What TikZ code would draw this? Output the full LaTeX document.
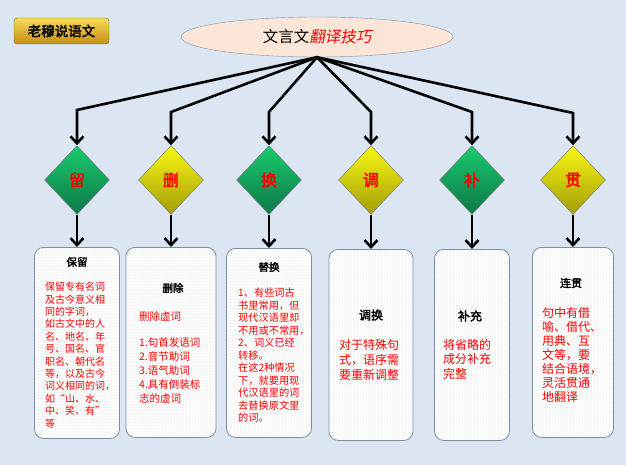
\documentclass[tikz,border=0pt]{standalone}
\usepackage{fontspec}
\newfontfamily\cjk[AutoFakeBold=2.5,AutoFakeSlant=0.2]{Noto Sans CJK SC}
\usepackage{tikz}
\usetikzlibrary{arrows.meta,shapes.geometric,patterns}

\definecolor{bgblue}{HTML}{DCE6F2}
\definecolor{peach}{HTML}{FBE5D6}
\definecolor{ellline}{HTML}{7F8FA9}
\definecolor{cardline}{HTML}{7C8DA6}
\definecolor{green1}{HTML}{18CB6E}
\definecolor{green2}{HTML}{0E7747}
\definecolor{yel1}{HTML}{F8F812}
\definecolor{yel2}{HTML}{A39C08}
\definecolor{gold1}{HTML}{FADA5A}
\definecolor{gold2}{HTML}{C28E14}
\definecolor{badgeline}{HTML}{7A6632}

\begin{document}
\begin{tikzpicture}[x=1pt,y=-1pt,>={Straight Barb[length=7pt,width=13pt]},
    link/.style={line width=2.6pt},
    kind/.style={diamond,draw=gray,line width=0.5pt,minimum width=65pt,minimum height=69pt,inner sep=0pt,text=red,font=\cjk\bfseries\fontsize{16}{16}\selectfont},
    greenkind/.style={kind,top color=green1,bottom color=green2},
    yellowkind/.style={kind,top color=yel1,bottom color=yel2},
    card/.style={anchor=north,draw=cardline,line width=0.8pt,rounded corners=9pt,preaction={fill=white},pattern=dots,pattern color=gray!50},
    head/.style={font=\cjk\bfseries\fontsize{10.5}{12}\selectfont},
    body/.style={anchor=north west,inner sep=0pt,align=left,text=red}]
  \fill[bgblue] (0,0) rectangle (626,465);
  \useasboundingbox (0,0) rectangle (626,465);

  % title and badge
  \node[rounded corners=3pt,draw=badgeline,top color=gold1,bottom color=gold2,minimum width=95pt,minimum height=26pt,font=\cjk\bfseries\fontsize{13.5}{14}\selectfont] (tag) at (61.5,31) {老穆说语文};
  \node[ellipse,draw=ellline,fill=peach,minimum width=272pt,minimum height=40pt,inner sep=0pt,font=\cjk\fontsize{15.5}{16}\selectfont] (top) at (317,37) {文言文\textcolor{red}{\itshape 翻译技巧}};

  % bends
  \coordinate (k1) at (77,110);
  \coordinate (k2) at (171,112);
  \coordinate (k3) at (269,112);
  \coordinate (k4) at (371,112);
  \coordinate (k5) at (472,112);
  \coordinate (k6) at (573,113);

  % diamonds
  \node[greenkind] (d1) at (77,180) {留};
  \node[yellowkind] (d2) at (171,180) {删};
  \node[greenkind] (d3) at (269,180) {换};
  \node[yellowkind] (d4) at (371,180) {调};
  \node[greenkind] (d5) at (472,180) {补};
  \node[yellowkind] (d6) at (573,180) {贯};

  % cards
  \node[card,minimum width=85pt,minimum height=191pt] (b1) at (77,247) {};
  \node[card,minimum width=90pt,minimum height=190pt] (b2) at (171,247) {};
  \node[card,minimum width=85pt,minimum height=189pt] (b3) at (269,248) {};
  \node[card,minimum width=84pt,minimum height=191pt] (b4) at (371,249) {};
  \node[card,minimum width=75pt,minimum height=191pt] (b5) at (472,249) {};
  \node[card,minimum width=81pt,minimum height=190pt] (b6) at (573,247) {};

  \node[head] (h1) at (77,262) {保留};
  \node[head] (h2) at (173,288) {删除};
  \node[head] (h3) at (269,267) {替换};
  \node[head,font=\cjk\bfseries\fontsize{12}{12}\selectfont] (h4) at (371,315) {调换};
  \node[head,font=\cjk\bfseries\fontsize{12}{12}\selectfont] (h5) at (470,316) {补充};
  \node[head,font=\cjk\bfseries\fontsize{11}{12}\selectfont] (h6) at (571,283) {连贯};

  \node[body,font=\cjk\fontsize{10}{12.4}\selectfont] (t1) at (45,282) {保留专有名词\\及古今意义相\\同的字词，\\如古文中的人\\名、地名、年\\号、国名、官\\职名、朝代名\\等，以及古今\\词义相同的词，\\如“山、水、\\中、笑、有”\\等};
  \node[body,anchor=west,font=\cjk\fontsize{10.5}{14}\selectfont] (t2) at (139,316) {删除虚词};
  \node[body,font=\cjk\fontsize{10.5}{14}\selectfont] (t2b) at (139,337) {1.句首发语词\\2.音节助词\\3.语气助词\\4.具有倒装标\\志的虚词};
  \node[body,font=\cjk\fontsize{10.2}{12.5}\selectfont] (t3) at (238,288) {1、有些词古\\书里常用，但\\现代汉语里却\\不用或不常用，\\2、词义已经\\转移。\\在这2种情况\\下，就要用现\\代汉语里的词\\去替换原文里\\的词。};
  \node[body,font=\cjk\fontsize{12}{15}\selectfont] (t4) at (339,339) {对于特殊句\\式，语序需\\要重新调整};
  \node[body,font=\cjk\fontsize{12}{14.5}\selectfont] (t5) at (443,339) {将省略的\\成分补充\\完整};
  \node[body,font=\cjk\fontsize{12}{14}\selectfont] (t6) at (542,307) {句中有借\\喻、借代、\\用典、互\\文等，要\\结合语境，\\灵活贯通\\地翻译};

  % connectors
  \draw[link,->] (top.south) -- (k1) -- (d1.north);
  \draw[link,->] (top.south) -- (k2) -- (d2.north);
  \draw[link,->] (top.south) -- (k3) -- (d3.north);
  \draw[link,->] (top.south) -- (k4) -- (d4.north);
  \draw[link,->] (top.south) -- (k5) -- (d5.north);
  \draw[link,->] (top.south) -- (k6) -- (d6.north);
  \draw[link,->] (d1) -- (b1);
  \draw[link,->] (d2) -- (b2);
  \draw[link,->] (d3) -- (b3);
  \draw[link,->] (d4) -- (b4);
  \draw[link,->] (d5) -- (b5);
  \draw[link,->] (d6) -- (b6);
\end{tikzpicture}
\end{document}
